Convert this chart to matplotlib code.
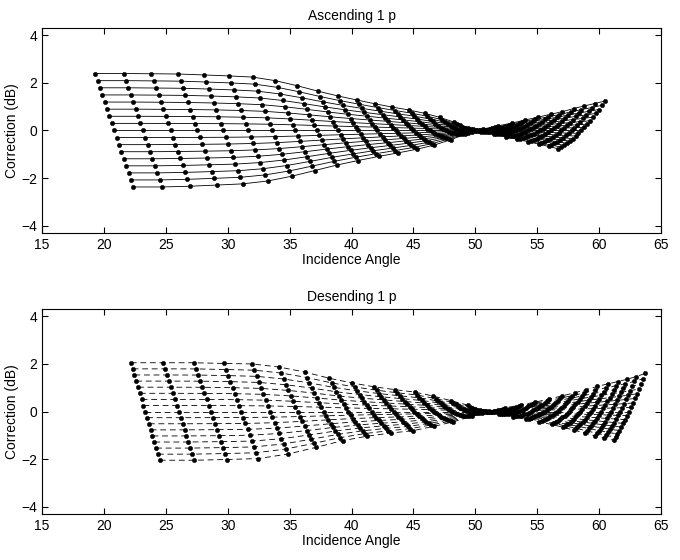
import numpy as np
import matplotlib
matplotlib.use("Agg")
import matplotlib.pyplot as plt

# ---------------------------------------------------------
# Donnees : 17 rangees x 27 colonnes
# angle / correction de la premiere et de la derniere rangee
# ---------------------------------------------------------

# gain relatif de chaque rangee (lu aux extremites gauches)
row_gain = [1.0, 0.875, 0.75, 0.625, 0.5, 0.375, 0.25, 0.125, 0.0,
            -0.125, -0.25, -0.375, -0.5, -0.625, -0.75, -0.875, -1.0]

# Ascending 1 p
asc_angle_first = [19.28, 21.59, 23.83, 25.99, 28.07, 30.07, 32.01, 33.84, 35.59,
                   37.28, 38.89, 40.42, 41.89, 43.30, 44.63, 45.91, 47.13, 48.29,
                   49.40, 50.46, 51.48, 52.44, 53.37, 54.26, 55.11, 55.92, 56.70]
asc_corr_first = [2.39, 2.39, 2.38, 2.37, 2.33, 2.29, 2.24, 2.09, 1.88,
                  1.65, 1.45, 1.28, 1.12, 0.98, 0.86, 0.72, 0.55, 0.35,
                  0.12, -0.05, -0.16, -0.26, -0.37, -0.47, -0.57, -0.67, -0.77]
asc_angle_last = [22.37, 24.68, 26.93, 29.10, 31.20, 33.22, 35.16, 37.03, 38.82,
                  40.53, 42.18, 43.75, 45.25, 46.69, 48.06, 49.37, 50.61, 51.81,
                  52.95, 54.03, 55.08, 56.08, 57.03, 57.94, 58.81, 59.64, 60.44]
asc_corr_last = [-2.37, -2.37, -2.34, -2.29, -2.24, -2.12, -1.92, -1.68, -1.45,
                 -1.26, -1.09, -0.94, -0.79, -0.61, -0.38, -0.12, 0.06, 0.19,
                 0.31, 0.44, 0.56, 0.68, 0.79, 0.92, 1.03, 1.13, 1.23]

# Desending 1 p
des_angle_first = [22.16, 24.78, 27.28, 29.68, 31.97, 34.15, 36.22, 38.19, 40.06,
                   41.83, 43.51, 45.10, 46.61, 48.03, 49.39, 50.67, 51.88, 53.04,
                   54.13, 55.17, 56.16, 57.10, 57.99, 58.84, 59.65, 60.43, 61.17]
des_corr_first = [2.05, 2.05, 2.05, 2.02, 2.00, 1.87, 1.66, 1.40, 1.20,
                  1.04, 0.92, 0.82, 0.65, 0.46, 0.27, 0.04, -0.10, -0.21,
                  -0.32, -0.43, -0.54, -0.66, -0.78, -0.90, -1.02, -1.12, -1.20]
des_angle_last = [24.50, 27.29, 29.95, 32.48, 34.87, 37.13, 39.27, 41.28, 43.17,
                  44.95, 46.64, 48.21, 49.70, 51.10, 52.43, 53.68, 54.85, 55.97,
                  57.02, 58.02, 58.96, 59.86, 60.70, 61.51, 62.28, 63.01, 63.70]
des_corr_last = [-2.04, -2.04, -2.01, -1.97, -1.78, -1.50, -1.22, -1.03, -0.90,
                 -0.80, -0.62, -0.43, -0.20, 0.02, 0.16, 0.28, 0.40, 0.53,
                 0.66, 0.79, 0.92, 1.06, 1.16, 1.26, 1.36, 1.47, 1.60]

x_ticks = [15, 20, 25, 30, 35, 40, 45, 50, 55, 60, 65]
y_ticks = [-4, -2, 0, 2, 4]

plt.rcParams["font.family"] = ["Liberation Sans", "DejaVu Sans"]
plt.rcParams["font.size"] = 10


def grid_rows(a_first, c_first, a_last, c_last):
    # position de chaque rangee entre la premiere (w=0) et la derniere (w=1)
    g = np.array(row_gain)[:, None]
    w = (1 - g) / 2
    a0, a1 = np.array(a_first), np.array(a_last)
    c0, c1 = np.array(c_first), -np.array(c_last)
    angles = a0 + (a1 - a0) * w
    corr = g * (c0 + (c1 - c0) * w)
    return angles, corr


def draw(ax, angles, corr, style, title):
    for r in range(len(row_gain)):
        ax.plot(angles[r], corr[r], linestyle=style, color="black", lw=0.6,
                marker="o", ms=3.2, mfc="black", mec="black", mew=0.3)
    ax.set_xlim(15, 65)
    ax.set_ylim(-4.3, 4.3)
    ax.set_xticks(x_ticks)
    ax.set_yticks(y_ticks)
    ax.tick_params(direction="in", top=True, right=True, length=4, width=0.8)
    for s in ax.spines.values():
        s.set_linewidth(0.8)
    ax.set_title(title, fontsize=10, pad=6)
    ax.set_xlabel("Incidence Angle", labelpad=1)
    ax.set_ylabel("Correction (dB)", labelpad=2)


fig = plt.figure(figsize=(6.8, 5.6), dpi=100)
ax1 = fig.add_axes([0.062, 0.584, 0.910, 0.366])
ax2 = fig.add_axes([0.062, 0.082, 0.910, 0.366])

a, c = grid_rows(asc_angle_first, asc_corr_first, asc_angle_last, asc_corr_last)
draw(ax1, a, c, "-", "Ascending 1 p")
a, c = grid_rows(des_angle_first, des_corr_first, des_angle_last, des_corr_last)
draw(ax2, a, c, (0, (7, 4.5)), "Desending 1 p")

fig.savefig("out.png", dpi=100)
